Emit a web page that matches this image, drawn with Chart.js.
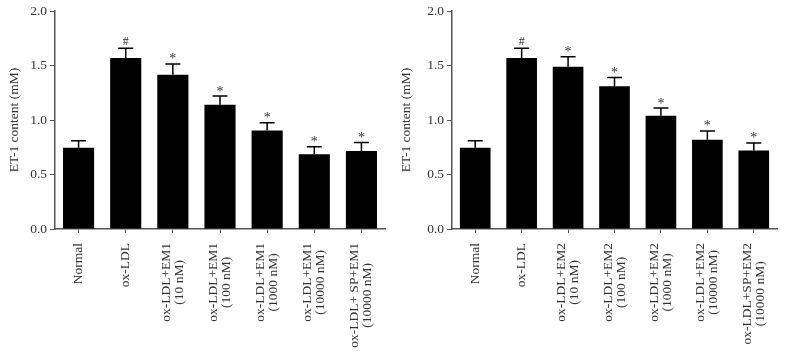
<!DOCTYPE html>
<html>
<head>
<meta charset="utf-8">
<script src="https://cdn.jsdelivr.net/npm/chart.js@4.4.1/dist/chart.umd.min.js"></script>
<style>
  body { margin: 0; background: #fff; }
  .wrap { position: absolute; top: 0; height: 351px; }
</style>
</head>
<body>
<div class="wrap" style="left:0;width:392px"><canvas id="c1" width="392" height="351"></canvas></div>
<div class="wrap" style="left:392px;width:393px"><canvas id="c2" width="393" height="351"></canvas></div>
<script>
// categories (each entry is the lines of one rotated label)
const labels1 = [['Normal'], ['ox-LDL'], ['ox-LDL+EM1', '(10 nM)'], ['ox-LDL+EM1', '(100 nM)'],
  ['ox-LDL+EM1', '(1000 nM)'], ['ox-LDL+EM1', '(10000 nM)'], ['ox-LDL+ SP+EM1', '(10000 nM)']];
const labels2 = [['Normal'], ['ox-LDL'], ['ox-LDL+EM2', '(10 nM)'], ['ox-LDL+EM2', '(100 nM)'],
  ['ox-LDL+EM2', '(1000 nM)'], ['ox-LDL+EM2', '(10000 nM)'], ['ox-LDL+SP+EM2', '(10000 nM)']];

// ET-1 content (mM) and upper error (SD)
const values1 = [0.745, 1.57, 1.415, 1.14, 0.905, 0.685, 0.715];
const errors1 = [0.065, 0.09, 0.10, 0.08, 0.07, 0.07, 0.08];
const values2 = [0.745, 1.57, 1.49, 1.31, 1.04, 0.82, 0.72];
const errors2 = [0.065, 0.09, 0.09, 0.08, 0.07, 0.08, 0.07];
const marks = ['', '#', '*', '*', '*', '*', '*'];

const yTicks = [0, 0.5, 1.0, 1.5, 2.0];

const serif = '"Liberation Serif", "DejaVu Serif", serif';
const axisColor = '#555';
const textColor = '#333';

// error bars, significance marks and the rotated category labels
const extras = {
  id: 'extras',
  afterDatasetsDraw(chart, args, opts) {
    const ctx = chart.ctx;
    const x = chart.scales.x, y = chart.scales.y;
    ctx.save();
    ctx.strokeStyle = '#000';
    ctx.lineWidth = 1.5;
    opts.values.forEach((v, i) => {
      const cx = x.getPixelForValue(i);
      const top = y.getPixelForValue(v);
      const hi = y.getPixelForValue(v + opts.errors[i]);
      ctx.beginPath();
      ctx.moveTo(cx, top);
      ctx.lineTo(cx, hi);
      ctx.moveTo(cx - 7.5, hi);
      ctx.lineTo(cx + 7.5, hi);
      ctx.stroke();
      if (opts.marks[i]) {
        ctx.fillStyle = textColor;
        ctx.textAlign = 'center';
        ctx.textBaseline = 'alphabetic';
        if (opts.marks[i] === '#') {
          ctx.font = '12px ' + serif;
          ctx.fillText('#', cx, hi - 3);
        } else {
          ctx.font = '14px ' + serif;
          ctx.fillText('*', cx, hi - 0.5);
        }
      }
    });
    // x labels
    ctx.fillStyle = textColor;
    ctx.font = '13.5px ' + serif;
    ctx.textAlign = 'center';
    ctx.textBaseline = 'middle';
    const lh = 13;
    opts.labels.forEach((lines, i) => {
      const cx = x.getPixelForValue(i);
      const w = Math.max(...lines.map(s => ctx.measureText(s).width));
      ctx.save();
      ctx.translate(cx, x.top + 14);
      ctx.rotate(-Math.PI / 2);
      lines.forEach((s, j) => {
        ctx.fillText(s, -w / 2, (j - (lines.length - 1) / 2) * lh);
      });
      ctx.restore();
    });
    ctx.restore();
  }
};

function makeChart(id, labels, values, errors, yWidth, padRight) {
  new Chart(document.getElementById(id), {
    type: 'bar',
    data: {
      labels: labels.map(l => l.join(' ')),
      datasets: [{
        data: values,
        backgroundColor: '#000',
        barPercentage: 0.66,
        categoryPercentage: 1.0
      }]
    },
    options: {
      responsive: false,
      animation: false,
      devicePixelRatio: 1,
      layout: { padding: { top: 10, right: padRight, left: 0, bottom: 0 } },
      plugins: {
        legend: { display: false },
        tooltip: { enabled: false },
        extras: { values: values, errors: errors, marks: marks, labels: labels }
      },
      scales: {
        x: {
          grid: { display: true, drawOnChartArea: false, offset: false, tickLength: 4, color: axisColor, lineWidth: 1 },
          border: { color: axisColor, width: 1.5 },
          ticks: { display: false },
          afterFit(s) { s.height = 122; }
        },
        y: {
          min: 0,
          max: 2.0,
          afterBuildTicks(s) { s.ticks = yTicks.map(v => ({ value: v })); },
          grid: { display: true, drawOnChartArea: false, tickLength: 5, color: axisColor, lineWidth: 1 },
          border: { color: axisColor, width: 1.5 },
          ticks: {
            color: textColor,
            padding: 3,
            font: { family: serif, size: 13.5 },
            callback: v => Number(v).toFixed(1)
          },
          title: {
            display: true,
            text: 'ET-1 content (mM)',
            color: textColor,
            font: { family: serif, size: 13.5 },
            padding: { top: 6, bottom: 2 }
          },
          afterFit(s) { s.width = yWidth; }
        }
      }
    },
    plugins: [extras]
  });
}

makeChart('c1', labels1, values1, errors1, 55, 7);
makeChart('c2', labels2, values2, errors2, 60, 8);
</script>
</body>
</html>
